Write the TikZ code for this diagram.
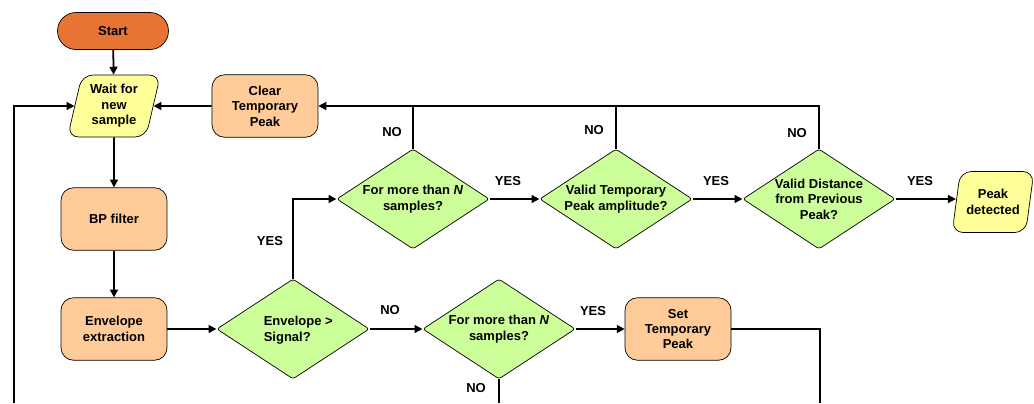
\documentclass[tikz,border=0pt]{standalone}
\usepackage{fontspec}
\setmainfont{Liberation Sans}
\usepackage{xcolor}
\usetikzlibrary{shapes.geometric, arrows.meta}

\definecolor{startcol}{RGB}{232,116,52}
\definecolor{proccol}{RGB}{255,204,153}
\definecolor{deccol}{RGB}{204,255,153}
\definecolor{iocol}{RGB}{255,255,153}

\begin{document}
\begin{tikzpicture}[x=0.02cm, y=-0.02cm,
  every node/.style={font=\fontsize{7.4}{8.8}\selectfont\bfseries, align=center},
  term/.style={draw, fill=startcol, rounded corners=0.37cm, minimum width=2.22cm, minimum height=0.74cm},
  proc/.style={draw, fill=proccol, rounded corners=0.25cm, minimum width=2.12cm, minimum height=1.25cm},
  dec/.style={draw, fill=deccol, diamond, aspect=1.52, rounded corners=1.5pt, inner sep=-3pt, minimum width=3.05cm, minimum height=2cm},
  io/.style={draw, fill=iocol, trapezium, trapezium left angle=76, trapezium right angle=104, trapezium stretches=true, rounded corners=0.22cm, inner sep=1pt},
  lbl/.style={font=\fontsize{7.4}{8.8}\selectfont\bfseries},
  arr/.style={-{Triangle[length=4.5pt,width=4.5pt]}, line width=1pt},
  lin/.style={line width=1pt}]
  \useasboundingbox (0,0) rectangle (1034,403);

  % Nodos
  \node[term] (start) at (113,31) {Start};                          % Inicio
  \node[io, minimum width=1.86cm, minimum height=1.24cm] (wait) at (114,106) {Wait for\\new\\sample};
  \node[proc] (clear) at (265,106) {Clear\\Temporary\\Peak};       % Borrar pico
  \node[proc] (bp) at (114,219) {BP filter};                       % Filtro
  \node[proc] (env) at (114,329) {Envelope\\extraction};           % Envolvente
  \node[dec, align=left, text depth=0pt] (sig) at (293,329) {\hspace*{6pt}Envelope >\\\hspace*{6pt}Signal?};
  \node[dec] (cnt1) at (413,199) {For more than \textit{N}\\samples?};
  \node[dec] (amp) at (616,199) {Valid Temporary\\Peak amplitude?};
  \node[dec] (dist) at (819,199) {Valid Distance\\from Previous\\Peak?};
  \node[io, minimum width=1.64cm, minimum height=1.22cm] (peak) at (993,202) {Peak\\detected};
  \node[dec] (cnt2) at (499,329) {For more than \textit{N}\\samples?};
  \node[proc] (setp) at (678,329) {Set\\Temporary\\Peak};          % Fijar pico

  % Extremos libres (borde inferior)
  \coordinate (lb) at (14,403);
  \coordinate (nb) at (499,403);
  \coordinate (sb) at (820,403);

  % Aristas
  \draw[arr] (start) -- (wait);
  \draw[arr] (wait) -- (bp);
  \draw[arr] (bp) -- (env);
  \draw[arr] (env) -- (sig);
  \draw[arr] (sig) -- (cnt2);
  \draw[arr] (sig.north) |- (cnt1.west);
  \draw[arr] (cnt1) -- (amp);
  \draw[arr] (amp) -- (dist);
  \draw[arr] (dist.east) -- (dist.east -| peak.west);
  \draw[arr] (dist.north) |- (clear.east);
  \draw[lin] (cnt1.north) -- (cnt1.north |- clear.east);
  \draw[lin] (amp.north) -- (amp.north |- clear.east);
  \draw[arr] (clear) -- (wait);
  \draw[arr] (lb) |- (wait.west);
  \draw[lin] (cnt2.south) -- (nb);
  \draw[arr] (cnt2) -- (setp);
  \draw[lin] (setp.east) -| (sb);

  % Etiquetas
  \node[lbl] (l1) at (390,310) {NO};
  \node[lbl] (l2) at (270,241) {YES};
  \node[lbl] (l3) at (392,132) {NO};
  \node[lbl] (l4) at (594,130) {NO};
  \node[lbl] (l5) at (797,133) {NO};
  \node[lbl] (l6) at (508,181) {YES};
  \node[lbl] (l7) at (716,181) {YES};
  \node[lbl] (l8) at (920,181) {YES};
  \node[lbl] (l9) at (593,311) {YES};
  \node[lbl] (l10) at (476,388) {NO};
\end{tikzpicture}
\end{document}
